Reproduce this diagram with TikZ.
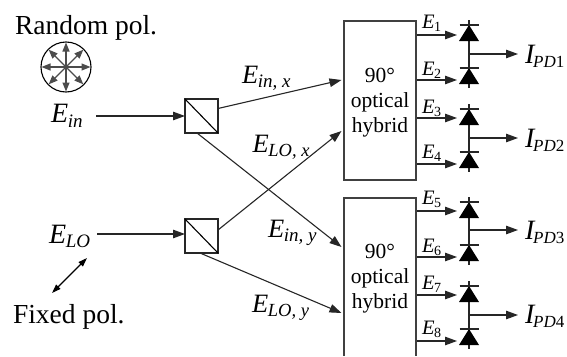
\documentclass[tikz,border=0pt]{standalone}
\usepackage{fontspec}
\setmainfont{Liberation Serif}
\usetikzlibrary{arrows.meta}
\newcommand{\fs}[1]{\fontsize{#1}{#1}\selectfont}
% big italic letter with an italic subscript
\newcommand{\ES}[4]{{\fs{#1}\itshape #3\kern-0.3pt\raisebox{-0.17em}{\fs{#2}#4}}}
\newcommand{\IS}[1]{{\fs{28}\itshape I\kern-1.2pt\raisebox{-0.17em}{\fs{17}PD\upshape #1}}}
\tikzset{
  x=1pt,y=-1pt,
  wire/.style={line width=1.1pt,draw=black!85},
  arr/.style={wire,-{Triangle[length=12pt,width=8.5pt]}},
  bsbox/.style={draw=black!85,line width=1.1pt,minimum width=33pt,minimum height=34pt,inner sep=0pt,outer sep=0pt},
  hyb/.style={draw=black!75,line width=1.2pt,minimum width=72pt,inner sep=0pt,outer sep=0pt},
  hybtext/.style={align=center,font=\fontsize{21.5}{25}\selectfont,inner sep=0pt},
  txt/.style={anchor=base west,inner sep=0pt,outer sep=0pt},
  spoke/.style={line width=1.2pt,draw=black!70,-{Triangle[length=9pt,width=7pt]}},
  dbl/.style={line width=1.1pt,{Triangle[length=9pt,width=6pt]}-{Triangle[length=9pt,width=6pt]}}
}
\newcommand{\diodepair}[4]{%
  \draw[wire] (469,#1-5) -- (469,#2+20);
  \foreach \yy in {#1,#2}{
    \fill (469,\yy) -- (479,\yy+16) -- (459,\yy+16) -- cycle;
    \draw[wire] (459.5,\yy) -- (478.5,\yy);
  }
  \coordinate (#4a) at (469,#3);
  \coordinate (#4b) at (518,#3);
  \draw[arr] (#4a) -- (#4b);
}
\begin{document}
\begin{tikzpicture}
\useasboundingbox (0,0) rectangle (567,356);
% polarisation circle
\coordinate (pc) at (66,67);
\draw[line width=1.1pt] (pc) circle (25);
\foreach \a in {0,45,...,315}{\draw[spoke] (pc) -- ++(\a:24.5);}
\node[txt] (tr) at (15,34.5) {\fs{27.5}Random pol.};
\node[txt] (tf) at (13,323) {\fs{27.5}Fixed pol.};
\node[txt] (ein) at (51,122.7) {\ES{28}{19}{E}{in}};
\node[txt] (elo) at (49,243) {\ES{28}{19}{E}{LO}};
% beam splitters
\node[bsbox] (B1) at (201.5,116) {};
\node[bsbox] (B2) at (201.5,236) {};
\draw[line width=1.1pt] (B1.north west) -- (B1.south east);
\draw[line width=1.1pt] (B2.north west) -- (B2.south east);
% hybrids
\node[hyb,minimum height=159pt] (H1) at (380,100.5) {};
\node[hybtext,anchor=base] (T1) at (380,132) {90°\\optical\\hybrid};
\node[hybtext,anchor=base] (T2) at (380,308) {90°\\optical\\hybrid};
\coordinate (H2a) at (344,198);
\coordinate (H2b) at (416,198);
\draw[hyb] (344,356) -- (H2a) -- (H2b) -- (416,356);
% inputs
\coordinate (einEnd) at (96,116);
\coordinate (eloEnd) at (97,234);
\draw[arr] (einEnd) -- (B1.west);
\draw[arr] (eloEnd) -- (B2.west |- eloEnd);
% crossing connectors
\coordinate (t1) at (341.5,80);
\coordinate (t2) at (341.5,131);
\coordinate (t3) at (341.5,247);
\coordinate (t4) at (341.5,313);
\coordinate (s1) at (218,108.5);
\coordinate (s2) at (197,133);
\coordinate (s3) at (218,230);
\coordinate (s4) at (200,253);
\draw[arr] (s1) -- (t1);
\draw[arr] (s2) -- (t3);
\draw[arr] (s3) -- (t2);
\draw[arr] (s4) -- (t4);
\node[txt] (l1) at (242,83) {\ES{26.5}{19}{E}{in, x}};
\node[txt] (l2) at (252.5,152) {\ES{26.5}{18.5}{E}{LO, x}};
\node[txt] (l3) at (268,237) {\ES{26.5}{19}{E}{in, y}};
\node[txt] (l4) at (252,312) {\ES{26.5}{18.5}{E}{LO, y}};
% fixed polarisation
\coordinate (da) at (52,293);
\coordinate (db) at (87,258);
\draw[dbl] (da) -- (db);
% detectors
\diodepair{25}{68}{54}{p1}
\diodepair{109}{152}{138}{p2}
\diodepair{202}{245}{230}{p3}
\diodepair{286}{329}{315}{p4}
\foreach \y/\n in {35/1,80/2,118/3,164/4,211/5,257/6,295/7,341/8}{
  \coordinate (ea\n) at (417,\y);
  \coordinate (eb\n) at (457,\y);
  \draw[arr] (ea\n) -- (eb\n);
}
\foreach \y/\n in {28/1,75/2,113/3,158/4,204/5,252/6,289/7,334/8}{
  \node[txt] (e\n) at (422,\y) {\ES{20.5}{14}{E}{\upshape\n}};
}
\foreach \y/\n in {63/1,147/2,239/3,323/4}{
  \node[txt] (i\n) at (525,\y) {\IS{\n}};
}
\end{tikzpicture}
\end{document}
